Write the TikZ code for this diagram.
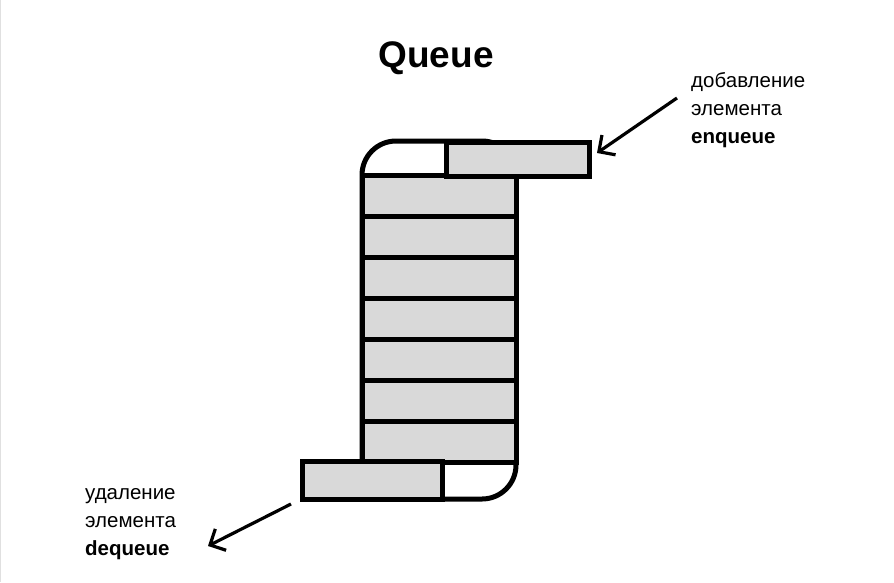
\documentclass[tikz,border=0pt]{standalone}
\usepackage{fontspec}
\setmainfont{Liberation Sans}
\usetikzlibrary{arrows.meta}

\begin{document}
\begin{tikzpicture}[x=1pt,y=-1pt,
        cell/.style={rectangle,draw=black,fill=black!15,line width=5pt,
          inner sep=0pt,minimum width=154pt,minimum height=40.9pt},
        slot/.style={rectangle,draw=black,fill=black!15,line width=5pt,
          inner sep=0pt},
        tube/.style={rectangle,draw=black,fill=white,line width=5pt,
          rounded corners=34pt,inner sep=0pt,minimum width=154pt,minimum height=358pt},
        note/.style={align=left,font=\fontsize{20.5}{28}\selectfont,inner sep=0pt},
        pointer/.style={line width=3.2pt,-{Straight Barb[length=12pt,width=24pt,line width=3.2pt]}}]
      \useasboundingbox (0,0) rectangle (894,582);
      \draw[black!12,line width=1pt] (0.5,0) -- (0.5,582);
      % title
      \node (title) at (436,58) [font=\fontsize{37}{42}\selectfont\bfseries] {Queue};
      % queue body
      \node (tube) at (439,320) [tube] {};
      \node (c1) at (439,196.4) [cell] {};
      \node (c2) at (439,237.3) [cell] {};
      \node (c3) at (439,278.1) [cell] {};
      \node (c4) at (439,319.0) [cell] {};
      \node (c5) at (439,359.9) [cell] {};
      \node (c6) at (439,400.7) [cell] {};
      \node (c7) at (439,441.6) [cell] {};
      % incoming and outgoing elements
      \node (enq) at (517.5,159) [slot,minimum width=143pt,minimum height=34pt] {};
      \node (deq) at (372,480.5) [slot,minimum width=140pt,minimum height=38pt] {};
      % labels
      \node (enqtext) at (691,110) [note,anchor=west] {добавление\\элемента\\\textbf{enqueue}};
      \node (deqtext) at (85,524) [note,anchor=west] {удаление\\элемента\\\textbf{dequeue}};
      \coordinate (enqfrom) at (677,98);
      \coordinate (enqto) at (597,153);
      \coordinate (deqfrom) at (291,504);
      \coordinate (deqto) at (208,546);
      \draw[pointer] (enqfrom) -- (enqto);
      \draw[pointer] (deqfrom) -- (deqto);
    \end{tikzpicture}
\end{document}
